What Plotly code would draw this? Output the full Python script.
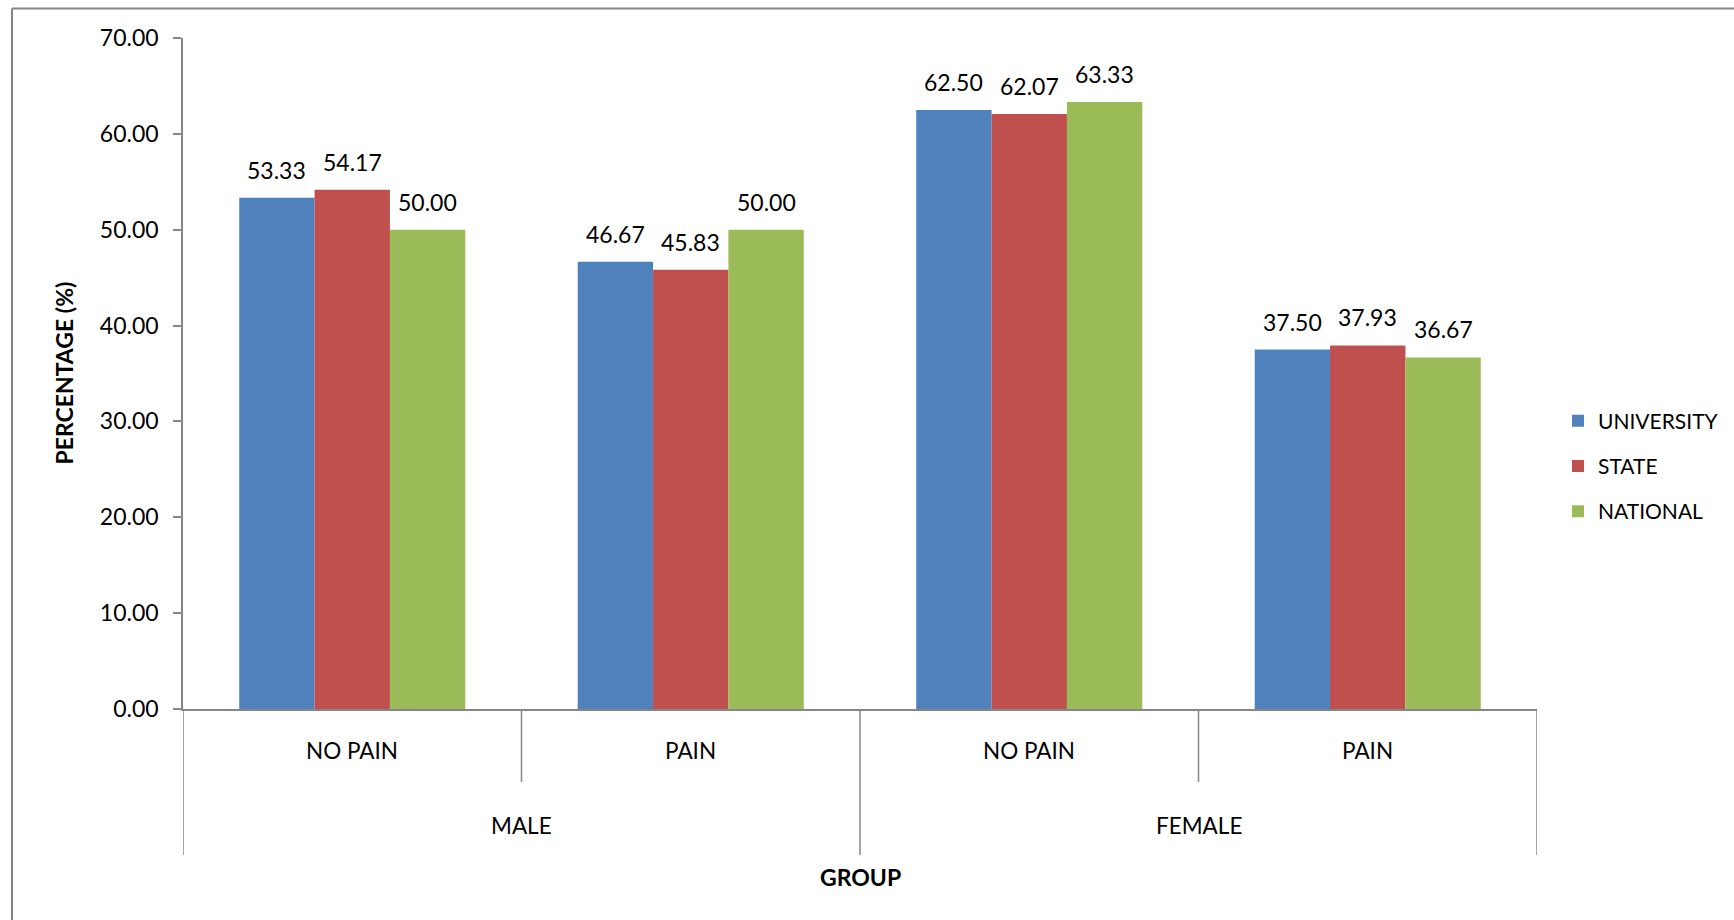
import plotly.graph_objects as go

# Categories: inner (pain status) and outer (sex) levels
sub_labels = ["NO PAIN", "PAIN", "NO PAIN", "PAIN"]
group_labels = ["MALE", "FEMALE"]

# Percentages for each institution level
series_names = ["UNIVERSITY", "STATE", "NATIONAL"]
university = [53.33, 46.67, 62.50, 37.50]
state = [54.17, 45.83, 62.07, 37.93]
national = [50.00, 50.00, 63.33, 36.67]

y_ticks = [0, 10, 20, 30, 40, 50, 60, 70]

colors = ["#4F81BD", "#C0504D", "#9BBB59"]
FONT = "Lato, 'Open Sans', sans-serif"
AXIS_GREY = "#868686"

W, H = 1734, 920
ML, MR, MT, MB = 183, 197, 38, 211
plot_w = W - ML - MR
plot_h = H - MT - MB


def px_x(px):
    return (px - ML) / plot_w


def px_y(py):
    return (H - MB - py) / plot_h


x_pos = list(range(len(sub_labels)))
bar_w = 0.2226
start = -1.5 * bar_w

fig = go.Figure()
annotations = []
all_series = [university, state, national]
for i, (name, vals) in enumerate(zip(series_names, all_series)):
    off = start + i * bar_w
    fig.add_trace(go.Bar(
        x=x_pos, y=vals, name=name,
        width=[bar_w] * len(vals), offset=off,
        marker=dict(color=colors[i], line=dict(width=0)),
        legendgroup=name,
        hoverinfo="skip",
    ))
    for xv, v in zip(x_pos, vals):
        annotations.append(dict(
            x=xv + off + bar_w / 2, y=v, xref="x", yref="y",
            text=f"{v:.2f}", showarrow=False, yanchor="middle", yshift=28,
            font=dict(family=FONT, size=23, color="#000"),
        ))

# Category labels along the bottom
for xv, lab in zip(x_pos, sub_labels):
    annotations.append(dict(
        x=xv, y=px_y(751), xref="x", yref="paper", text=lab, showarrow=False,
        yanchor="middle", font=dict(family=FONT, size=22.5, color="#000"),
    ))
for gi, lab in enumerate(group_labels):
    annotations.append(dict(
        x=gi * 2 + 0.5, y=px_y(825), xref="x", yref="paper", text=lab, showarrow=False,
        yanchor="middle", font=dict(family=FONT, size=22.5, color="#000"),
    ))
annotations.append(dict(
    x=1.5, y=px_y(877), xref="x", yref="paper", text="<b>GROUP</b>", showarrow=False,
    yanchor="middle", font=dict(family=FONT, size=23, color="#000"),
))
annotations.append(dict(
    x=px_x(63), y=0.5, xref="paper", yref="paper", text="<b>PERCENTAGE (%)</b>",
    showarrow=False, textangle=-90, xanchor="center", yanchor="middle",
    font=dict(family=FONT, size=23, color="#000"),
))

shapes = []
# Dividers between inner categories and between outer groups
for b in [-0.5, 0.5, 1.5, 2.5, 3.5]:
    is_outer = b in (-0.5, 1.5, 3.5)
    shapes.append(dict(
        type="line", xref="x", yref="paper", x0=b, x1=b,
        y0=0, y1=px_y(855) if is_outer else px_y(782),
        line=dict(color=AXIS_GREY, width=1.5),
    ))
# Chart-area frame (top and left edges)
shapes.append(dict(type="line", xref="paper", yref="paper",
                   x0=px_x(12), x1=px_x(W + 5), y0=px_y(8.5), y1=px_y(8.5),
                   line=dict(color=AXIS_GREY, width=2)))
shapes.append(dict(type="line", xref="paper", yref="paper",
                   x0=px_x(12), x1=px_x(12), y0=px_y(8.5), y1=px_y(H + 5),
                   line=dict(color=AXIS_GREY, width=2)))

fig.update_layout(
    width=W, height=H,
    margin=dict(l=ML, r=MR, t=MT, b=MB, autoexpand=False),
    paper_bgcolor="white", plot_bgcolor="white",
    barmode="overlay",
    showlegend=True,
    legend=dict(
        x=px_x(1558), y=px_y(466), xanchor="left", yanchor="middle",
        font=dict(family=FONT, size=21, color="#000"),
        tracegroupgap=15, itemwidth=30, bgcolor="rgba(0,0,0,0)",
    ),
    xaxis=dict(
        range=[-0.5, 3.5], showticklabels=False, ticks="", showgrid=False,
        zeroline=False, showline=True, linecolor=AXIS_GREY, linewidth=2,
    ),
    yaxis=dict(
        range=[0, 70], tickvals=y_ticks, tickformat=".2f",
        ticks="outside", ticklen=8, tickcolor=AXIS_GREY, tickwidth=1.5,
        showgrid=False, zeroline=False, showline=True, linecolor=AXIS_GREY,
        linewidth=1.5, tickfont=dict(family=FONT, size=23, color="#000"),
        ticklabelstandoff=10,
    ),
    annotations=annotations,
    shapes=shapes,
)

fig.write_html("out.html")
